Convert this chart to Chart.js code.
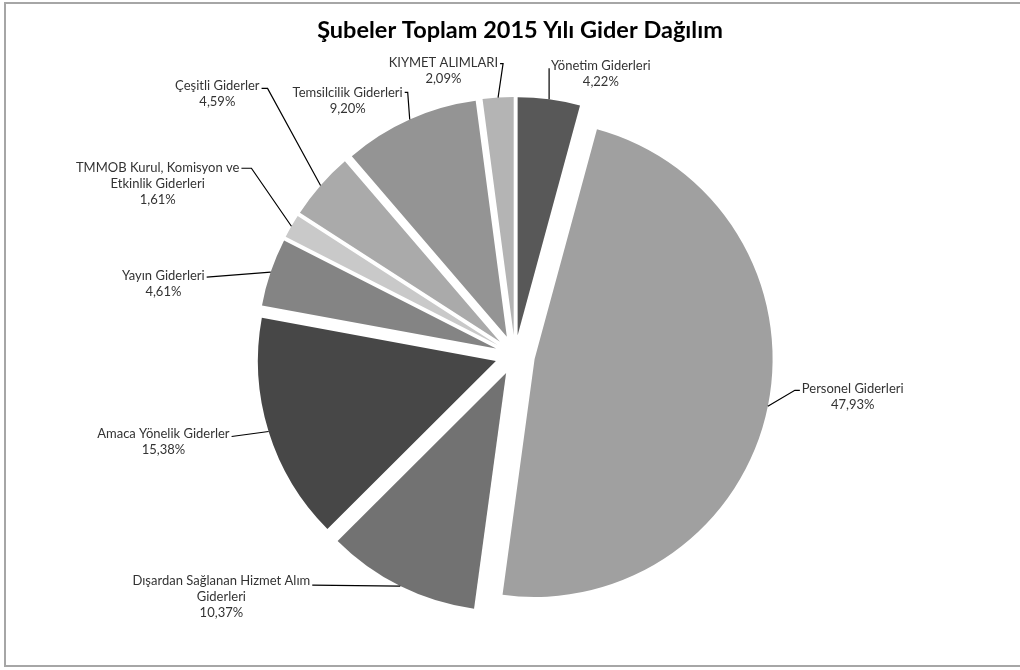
<!DOCTYPE html>
<html>
<head>
<meta charset="utf-8">
<script src="https://cdn.jsdelivr.net/npm/chart.js@4"></script>
<style>
  html, body { margin: 0; padding: 0; background: #fff; overflow: hidden; }
  #wrap { position: relative; width: 1020px; height: 670px; overflow: hidden; }
  #frame { position: absolute; left: 4px; top: 2px; width: 1060px; height: 665px; border: 2px solid #a6a6a6; box-sizing: border-box; pointer-events: none; }
</style>
</head>
<body>
<div id="wrap">
  <canvas id="pie-chart"></canvas>
  <div id="frame"></div>
</div>
<script>
// Gider kalemleri (saat yönünde, tepeden başlayarak)
const categories = [
  'Yönetim Giderleri',
  'Personel Giderleri',
  'Dışardan Sağlanan Hizmet Alım Giderleri',
  'Amaca Yönelik Giderler',
  'Yayın Giderleri',
  'TMMOB Kurul, Komisyon ve Etkinlik Giderleri',
  'Çeşitli Giderler',
  'Temsilcilik Giderleri',
  'KIYMET ALIMLARI'
];
// Pay (%)
const shares = [4.22, 47.93, 10.37, 15.38, 4.61, 1.61, 4.59, 9.20, 2.09];
const chartTitle = 'Şubeler Toplam 2015 Yılı Gider Dağılım';

const sliceColors = ['#585858', '#a0a0a0', '#727272', '#474747', '#848484', '#c9c9c9', '#aaaaaa', '#949494', '#b4b4b4'];
const explode = 20;

// etiket yerleşimi: dirsek noktası dilim kenarına göre (dx, dy), yön, kısa çizgi, metin kayması, satır genişliği
const labelLayout = [
  { dx: 0, dy: -31, side: 1, stub: 0, ty: -2, wrap: 300 },
  { dx: 27, dy: -16, side: 1, stub: 5, ty: -1, wrap: 300 },
  { dx: -88, dy: -1, side: -1, stub: 0, ty: -4, wrap: 185 },
  { dx: -37, dy: 5, side: -1, stub: 0, ty: -3, wrap: 300 },
  { dx: -64, dy: 5, side: -1, stub: 0, ty: -1, wrap: 300 },
  { dx: -40, dy: -58, side: -1, stub: 10, ty: 0, wrap: 165 },
  { dx: -53, dy: -97, side: -1, stub: 6, ty: -3, wrap: 300 },
  { dx: -2, dy: -27, side: -1, stub: 3, ty: 0, wrap: 300 },
  { dx: 5, dy: -34, side: -1, stub: 3, ty: -1, wrap: 300 }
];

const labelFont = '13px Lato';
const lineGap = 16;

function wrapText(ctx, text, maxW) {
  const words = text.split(' ');
  const lines = [];
  let cur = '';
  words.forEach(w => {
    const test = cur ? cur + ' ' + w : w;
    if (cur && ctx.measureText(test).width > maxW) {
      lines.push(cur);
      cur = w;
    } else {
      cur = test;
    }
  });
  if (cur) lines.push(cur);
  return lines;
}

// dilimleri ayrık çiz (patlatılmış pasta)
const explodePlugin = {
  id: 'explode',
  beforeDatasetDraw(chart, args) {
    const ctx = chart.ctx;
    args.meta.data.forEach(arc => {
      const mid = (arc.startAngle + arc.endAngle) / 2;
      ctx.save();
      ctx.translate(Math.cos(mid) * explode, Math.sin(mid) * explode);
      arc.draw(ctx, chart.chartArea);
      ctx.restore();
    });
    return false;
  }
};

const labelPlugin = {
  id: 'pieLabels',
  afterDatasetsDraw(chart) {
    const ctx = chart.ctx;
    const meta = chart.getDatasetMeta(0);
    ctx.save();
    ctx.font = labelFont;
    ctx.textBaseline = 'middle';
    ctx.textAlign = 'center';
    meta.data.forEach((arc, i) => {
      const lay = labelLayout[i];
      const mid = (arc.startAngle + arc.endAngle) / 2;
      const r = arc.outerRadius + explode;
      const ax = arc.x + Math.cos(mid) * r;
      const ay = arc.y + Math.sin(mid) * r;
      const ex = ax + lay.dx;
      const ey = ay + lay.dy;
      const sx = ex + lay.side * lay.stub;

      ctx.strokeStyle = '#000';
      ctx.lineWidth = 1.2;
      ctx.beginPath();
      ctx.moveTo(ax, ay);
      ctx.lineTo(ex, ey);
      ctx.lineTo(sx, ey);
      ctx.stroke();

      const lines = wrapText(ctx, categories[i], lay.wrap);
      lines.push(shares[i].toFixed(2).replace('.', ',') + '%');
      const w = Math.max(...lines.map(l => ctx.measureText(l).width));
      const cx = lay.side > 0 ? sx + 2 + w / 2 : sx - 2 - w / 2;
      ctx.fillStyle = '#333333';
      lines.forEach((l, k) => ctx.fillText(l, cx, ey + lay.ty + k * lineGap));
    });
    ctx.restore();
  }
};

const titlePlugin = {
  id: 'customTitle',
  afterDraw(chart) {
    const ctx = chart.ctx;
    ctx.save();
    ctx.font = 'bold 23.5px Lato';
    ctx.fillStyle = '#000';
    ctx.textAlign = 'center';
    ctx.textBaseline = 'alphabetic';
    ctx.fillText(chartTitle, 520, 38);
    ctx.restore();
  }
};

const pieConfig = {
  type: 'pie',
  data: {
    labels: categories,
    datasets: [{
      data: shares,
      backgroundColor: sliceColors,
      borderWidth: 0
    }]
  },
  options: {
    responsive: true,
    maintainAspectRatio: false,
    animation: false,
    layout: { padding: { top: 117, bottom: 77, left: 30, right: 20 } },
    plugins: {
      legend: { display: false },
      tooltip: { enabled: false }
    }
  },
  plugins: [explodePlugin, labelPlugin, titlePlugin]
};

document.getElementById('pie-chart').parentNode.style.height = '670px';
const pieChart = new Chart(document.getElementById('pie-chart'), pieConfig);
</script>
</body>
</html>
